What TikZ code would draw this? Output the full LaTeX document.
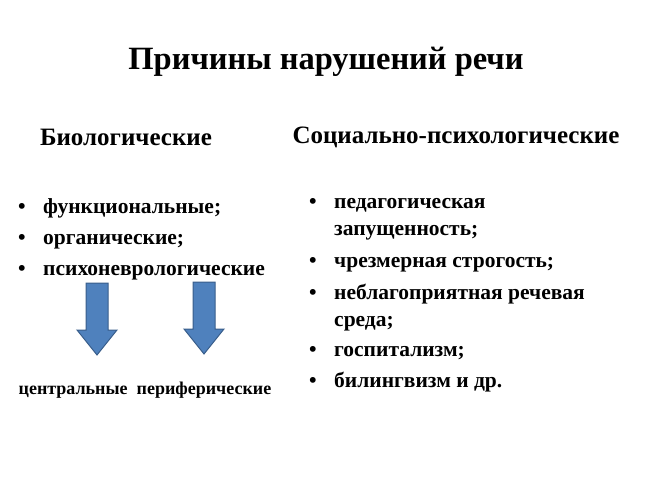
\documentclass[tikz,border=0pt]{standalone}
\usepackage{fontspec}
\setmainfont{Liberation Serif}
\definecolor{arrfill}{HTML}{4F81BD}
\definecolor{arrline}{HTML}{385D8A}
\begin{document}
\begin{tikzpicture}[x=1pt,y=-1pt,
  every node/.style={inner sep=0pt,font=\bfseries},
  item/.style={anchor=base west,font=\bfseries\fontsize{21.5}{24}\selectfont},
  dot/.style={anchor=base,font=\bfseries\fontsize{21.5}{24}\selectfont},
  head/.style={font=\bfseries\fontsize{25}{28}\selectfont},
  downarrow/.style={fill=arrfill,draw=arrline,line width=1pt}]
\useasboundingbox (0,0) rectangle (650,486);
\node[font=\bfseries\fontsize{32.5}{36}\selectfont] (title) at (326,62) {Причины нарушений речи};
\node[head] (bio) at (126,137) {Биологические};
\node[head] (soc) at (456,137) {Социально-психологические};
\foreach \y/\t [count=\i] in {208/функциональные;,238/органические;,269/психоневрологические}{
  \node[dot] (lb\i) at (22,\y+6) {•};
  \node[item] (l\i) at (43,\y+6) {\t};
}
\foreach \y/\t [count=\i] in {203/педагогическая,230/запущенность;,262/чрезмерная строгость;,293/неблагоприятная речевая,320/среда;,350/госпитализм;,381/билингвизм и др.}{
  \node[item] (r\i) at (334,\y+6) {\t};
}
\foreach \y [count=\i] in {203,262,293,350,381}{\node[dot] (rb\i) at (313,\y+6) {•};}
\foreach \cx/\top/\bot in {97/283/355,204/282/354}{
  \draw[downarrow] (\cx-11,\top) -- (\cx+11,\top) -- (\cx+11,\bot-25) -- (\cx+20,\bot-25)
    -- (\cx,\bot) -- (\cx-20,\bot-25) -- (\cx-11,\bot-25) -- cycle;
}
\node[font=\bfseries\fontsize{18}{20}\selectfont] (bottom) at (145,390) {центральные\ \ периферические};
\end{tikzpicture}
\end{document}
